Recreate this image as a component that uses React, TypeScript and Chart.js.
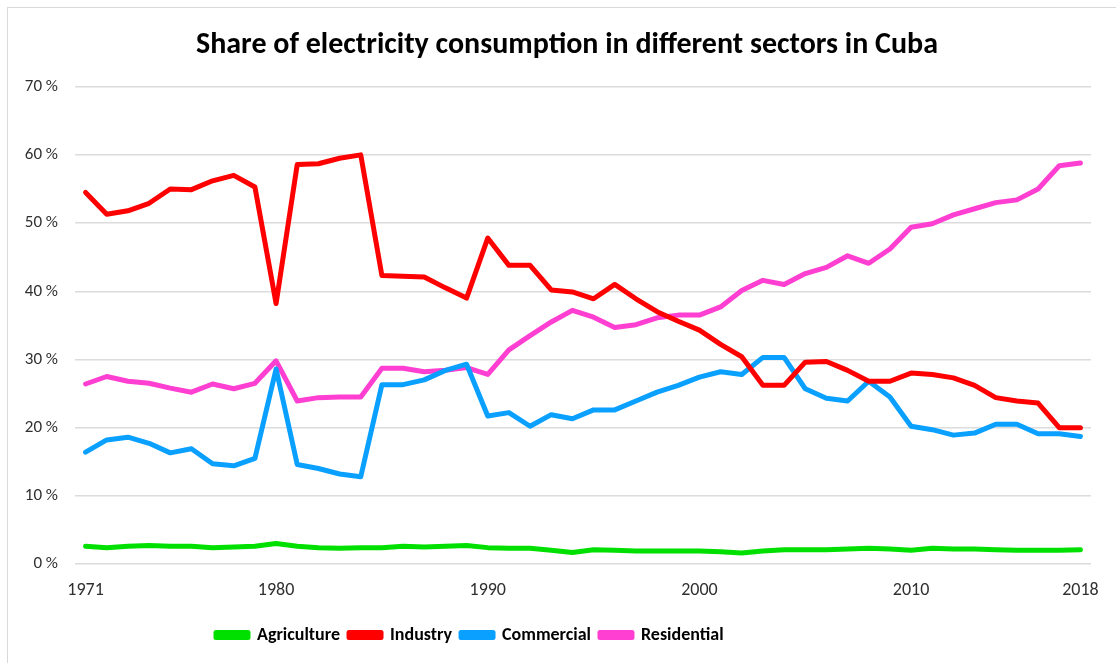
import React, { useEffect, useRef } from "react";
import { Chart, registerables } from "chart.js";

Chart.register(...registerables);

const years = [
  "1971", "1972", "1973", "1974", "1975", "1976", "1977", "1978", "1979", "1980",
  "1981", "1982", "1983", "1984", "1985", "1986", "1987", "1988", "1989", "1990",
  "1991", "1992", "1993", "1994", "1995", "1996", "1997", "1998", "1999", "2000",
  "2001", "2002", "2003", "2004", "2005", "2006", "2007", "2008", "2009", "2010",
  "2011", "2012", "2013", "2014", "2015", "2016", "2017", "2018",
];

const shownYears = ["1971", "1980", "1990", "2000", "2010", "2018"];

const agriculture = [
  2.6, 2.4, 2.6, 2.7, 2.6, 2.6, 2.4, 2.5, 2.6, 3.0,
  2.6, 2.4, 2.3, 2.4, 2.4, 2.6, 2.5, 2.6, 2.7, 2.4,
  2.3, 2.3, 2.0, 1.7, 2.1, 2.0, 1.9, 1.9, 1.9, 1.9,
  1.8, 1.6, 1.9, 2.1, 2.1, 2.1, 2.2, 2.3, 2.2, 2.0,
  2.3, 2.2, 2.2, 2.1, 2.0, 2.0, 2.0, 2.1,
];

const industry = [
  54.5, 51.3, 51.8, 52.9, 55.0, 54.9, 56.2, 57.0, 55.3, 38.2,
  58.6, 58.7, 59.5, 60.0, 42.3, 42.2, 42.1, 40.5, 39.0, 47.8,
  43.8, 43.8, 40.2, 39.9, 38.9, 41.0, 38.9, 37.0, 35.6, 34.3,
  32.2, 30.4, 26.2, 26.2, 29.6, 29.7, 28.4, 26.8, 26.8, 28.0,
  27.8, 27.3, 26.2, 24.4, 23.9, 23.6, 20.0, 20.0,
];

const commercial = [
  16.4, 18.2, 18.6, 17.7, 16.3, 16.9, 14.7, 14.4, 15.5, 28.6,
  14.6, 14.0, 13.2, 12.8, 26.3, 26.3, 27.0, 28.4, 29.3, 21.7,
  22.2, 20.2, 21.9, 21.3, 22.6, 22.6, 23.9, 25.2, 26.2, 27.4,
  28.2, 27.8, 30.3, 30.3, 25.7, 24.3, 23.9, 26.8, 24.5, 20.2,
  19.7, 18.9, 19.2, 20.5, 20.5, 19.1, 19.1, 18.7,
];

const residential = [
  26.4, 27.5, 26.8, 26.5, 25.8, 25.2, 26.4, 25.7, 26.5, 29.8,
  23.9, 24.4, 24.5, 24.5, 28.7, 28.7, 28.2, 28.4, 28.8, 27.8,
  31.4, 33.5, 35.5, 37.2, 36.2, 34.7, 35.1, 36.1, 36.5, 36.5,
  37.7, 40.1, 41.6, 41.0, 42.6, 43.5, 45.2, 44.1, 46.2, 49.4,
  49.9, 51.2, 52.1, 53.0, 53.4, 55.0, 58.4, 58.8,
];

const seriesNames = ["Agriculture", "Industry", "Commercial", "Residential"];
const seriesColors = ["#00e000", "#ff0000", "#0aa0ff", "#ff3fd2"];
const seriesValues = [agriculture, industry, commercial, residential];

const titleText = "Share of electricity consumption in different sectors in Cuba";
const FONT = 'Calibri, Carlito, "Liberation Sans Narrow", Lato, sans-serif';

const placePlugin = {
  id: "placeBoxes",
  beforeDraw(chart: any) {
    const lg = chart.legend;
    if (lg) {
      const pad = lg.options.labels.padding || 10;
      const dx = 216 - pad - lg.left;
      lg.left += dx;
      lg.right += dx;
    }
    const t = chart.titleBlock;
    if (t) {
      const dx = 567 - (t.left + t.right) / 2;
      t.left += dx;
      t.right += dx;
    }
  },
};

export default function App() {
  const ref = useRef<HTMLCanvasElement | null>(null);

  useEffect(() => {
    if (!ref.current) return;
    const chart = new Chart(ref.current, {
      type: "line",
      data: {
        labels: years,
        datasets: seriesNames.map((name, i) => ({
          label: name,
          data: seriesValues[i],
          borderColor: seriesColors[i],
          backgroundColor: seriesColors[i],
          borderWidth: 5,
          pointRadius: 0,
          tension: 0,
          borderCapStyle: "round" as const,
          borderJoinStyle: "round" as const,
        })),
      },
      options: {
        animation: false,
        responsive: true,
        maintainAspectRatio: false,
        layout: { padding: { left: 8, right: 25, top: 0, bottom: 9 } },
        plugins: {
          title: {
            display: true,
            text: titleText,
            color: "#000000",
            font: { family: FONT, size: 30, weight: "bold", lineHeight: 1.2 },
            padding: { top: 27, bottom: 23.7 },
          },
          legend: {
            display: true,
            position: "bottom",
            align: "start",
            labels: {
              boxWidth: 32,
              boxHeight: 5,
              padding: 9,
              color: "#000000",
              font: { family: FONT, size: 18, weight: "bold" },
            },
          },
          tooltip: { enabled: false },
        },
        scales: {
          x: {
            type: "category",
            offset: true,
            grid: { display: false, drawTicks: false },
            border: { display: false },
            afterFit(scale: any) {
              scale.height = 53;
            },
            ticks: {
              autoSkip: false,
              maxRotation: 0,
              minRotation: 0,
              padding: 16,
              color: "#303030",
              font: { family: FONT, size: 18 },
              callback(this: any, value: any) {
                const lab = this.getLabelForValue(value);
                return shownYears.includes(lab) ? lab : "";
              },
            },
          },
          y: {
            min: 0,
            max: 70,
            grid: { color: "#dcdcdc", lineWidth: 1.5, drawTicks: false },
            border: { display: false },
            afterFit(scale: any) {
              scale.width = 67;
            },
            ticks: {
              stepSize: 10,
              padding: 17,
              color: "#303030",
              font: { family: FONT, size: 17 },
              callback: (v: any) => v + " %",
            },
          },
        },
      },
      plugins: [placePlugin],
    });
    return () => chart.destroy();
  }, []);

  return (
    <div
      style={{
        position: "fixed",
        left: 0,
        top: 0,
        width: 1116,
        height: 663,
        overflow: "hidden",
        background: "#ffffff",
      }}
    >
      <div
        style={{
          position: "absolute",
          left: 7,
          top: 7,
          width: 1130,
          height: 680,
          border: "1px solid #d9d9d9",
        }}
      />
      <div style={{ position: "absolute", left: 0, top: 0, width: 1116, height: 663 }}>
        <canvas ref={ref} />
      </div>
    </div>
  );
}
